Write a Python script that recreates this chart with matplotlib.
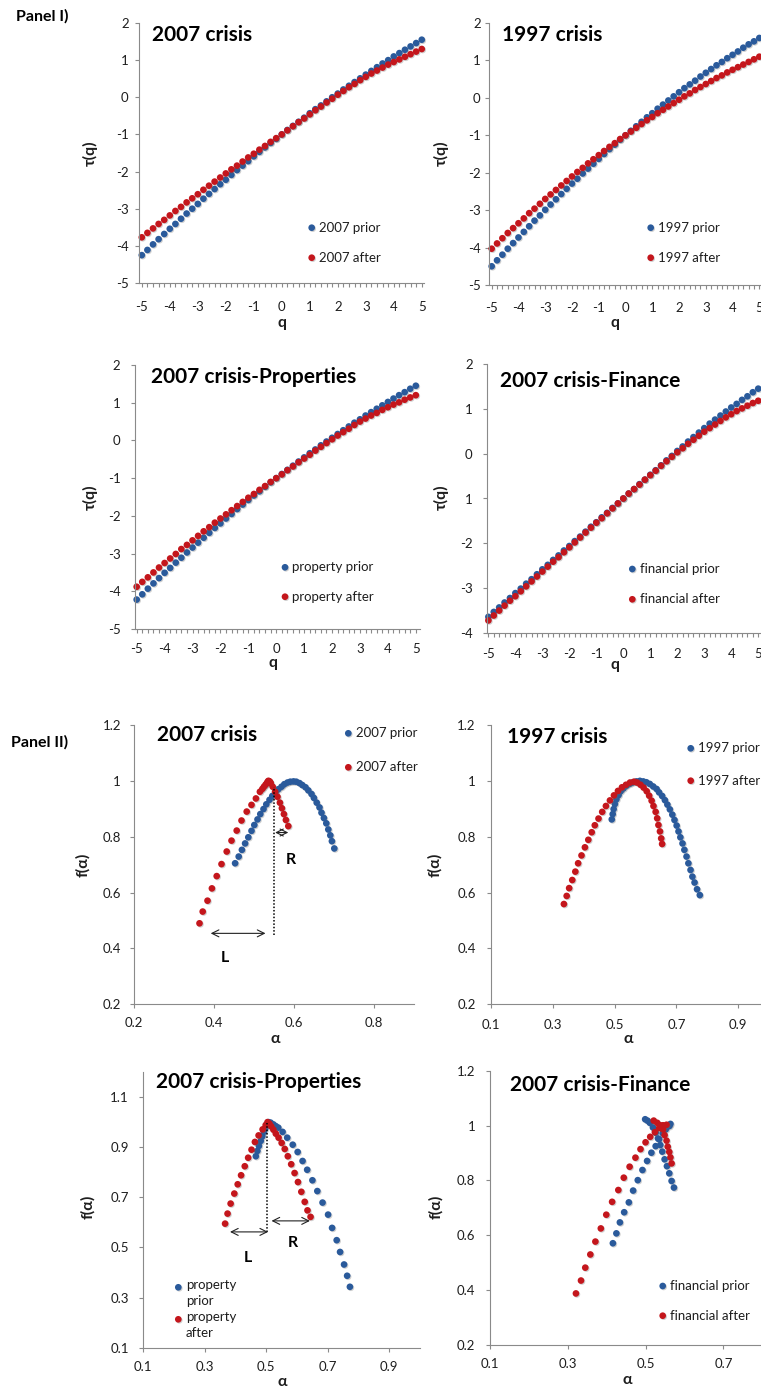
import matplotlib
matplotlib.use("Agg")
import matplotlib.pyplot as plt
import matplotlib.patheffects as pe
from matplotlib.lines import Line2D
from matplotlib.ticker import FixedLocator, MultipleLocator, FuncFormatter

plt.rcParams["font.family"] = ["Lato", "DejaVu Sans"]
plt.rcParams["axes.unicode_minus"] = False

# ---------------- Panel I data: tau(q) ----------------
q_vals = [-5.0, -4.8, -4.6, -4.4, -4.2, -4.0, -3.8, -3.6, -3.4, -3.2, -3.0,
          -2.8, -2.6, -2.4, -2.2, -2.0, -1.8, -1.6, -1.4, -1.2, -1.0,
          -0.8, -0.6, -0.4, -0.2, 0.0, 0.2, 0.4, 0.6, 0.8, 1.0,
          1.2, 1.4, 1.6, 1.8, 2.0, 2.2, 2.4, 2.6, 2.8, 3.0,
          3.2, 3.4, 3.6, 3.8, 4.0, 4.2, 4.4, 4.6, 4.8, 5.0]

tau_2007_prior = [-4.25, -4.11, -3.96, -3.82, -3.68, -3.54, -3.41, -3.27, -3.13, -3.00, -2.87,
                  -2.73, -2.60, -2.47, -2.34, -2.22, -2.09, -1.96, -1.84, -1.72, -1.59,
                  -1.47, -1.35, -1.23, -1.12, -1.00, -0.88, -0.77, -0.66, -0.55, -0.43,
                  -0.32, -0.22, -0.11, 0.00, 0.10, 0.21, 0.31, 0.41, 0.51, 0.61,
                  0.71, 0.81, 0.91, 1.00, 1.10, 1.19, 1.28, 1.37, 1.46, 1.55]
tau_2007_after = [-3.77, -3.65, -3.53, -3.41, -3.30, -3.18, -3.06, -2.95, -2.83, -2.72, -2.61,
                  -2.49, -2.38, -2.27, -2.16, -2.05, -1.94, -1.84, -1.73, -1.62, -1.52,
                  -1.41, -1.31, -1.20, -1.10, -1.00, -0.89, -0.78, -0.67, -0.57, -0.46,
                  -0.35, -0.25, -0.14, -0.04, 0.07, 0.17, 0.27, 0.36, 0.46, 0.55,
                  0.64, 0.72, 0.80, 0.88, 0.95, 1.02, 1.09, 1.16, 1.23, 1.30]
tau_1997_prior = [-4.50, -4.34, -4.19, -4.03, -3.88, -3.73, -3.58, -3.43, -3.28, -3.14, -2.99,
                  -2.85, -2.71, -2.57, -2.43, -2.29, -2.16, -2.02, -1.89, -1.76, -1.63,
                  -1.50, -1.37, -1.25, -1.12, -1.00, -0.88, -0.76, -0.64, -0.52, -0.41,
                  -0.29, -0.18, -0.07, 0.04, 0.15, 0.26, 0.36, 0.46, 0.57, 0.67,
                  0.77, 0.87, 0.96, 1.06, 1.15, 1.24, 1.34, 1.43, 1.51, 1.60]
tau_1997_after = [-4.03, -3.89, -3.75, -3.61, -3.48, -3.35, -3.22, -3.08, -2.96, -2.83, -2.70,
                  -2.58, -2.46, -2.34, -2.22, -2.10, -1.98, -1.87, -1.75, -1.64, -1.53,
                  -1.42, -1.31, -1.21, -1.10, -1.00, -0.90, -0.80, -0.70, -0.60, -0.51,
                  -0.41, -0.32, -0.23, -0.14, -0.05, 0.04, 0.12, 0.21, 0.29, 0.37,
                  0.45, 0.53, 0.60, 0.68, 0.75, 0.82, 0.89, 0.96, 1.03, 1.10]
tau_prop_prior = [-4.22, -4.08, -3.93, -3.79, -3.65, -3.51, -3.38, -3.24, -3.11, -2.97, -2.84,
                  -2.71, -2.58, -2.45, -2.32, -2.20, -2.07, -1.95, -1.82, -1.70, -1.58,
                  -1.46, -1.35, -1.23, -1.11, -1.00, -0.89, -0.78, -0.67, -0.56, -0.45,
                  -0.34, -0.24, -0.13, -0.03, 0.07, 0.17, 0.27, 0.37, 0.47, 0.56,
                  0.66, 0.75, 0.84, 0.93, 1.02, 1.11, 1.20, 1.28, 1.37, 1.45]
tau_prop_after = [-3.88, -3.75, -3.63, -3.50, -3.37, -3.25, -3.13, -3.01, -2.88, -2.77, -2.65,
                  -2.53, -2.41, -2.30, -2.18, -2.07, -1.96, -1.85, -1.74, -1.63, -1.52,
                  -1.42, -1.31, -1.21, -1.10, -1.00, -0.90, -0.79, -0.69, -0.58, -0.48,
                  -0.38, -0.27, -0.17, -0.07, 0.03, 0.13, 0.22, 0.31, 0.41, 0.50,
                  0.58, 0.66, 0.73, 0.81, 0.88, 0.95, 1.01, 1.08, 1.14, 1.20]
tau_fin_prior = [-3.64, -3.53, -3.43, -3.32, -3.22, -3.11, -3.01, -2.90, -2.80, -2.69, -2.58,
                 -2.48, -2.37, -2.27, -2.16, -2.06, -1.95, -1.85, -1.74, -1.63, -1.53,
                 -1.42, -1.32, -1.21, -1.11, -1.00, -0.89, -0.79, -0.68, -0.58, -0.47,
                 -0.37, -0.26, -0.15, -0.05, 0.06, 0.16, 0.27, 0.37, 0.47, 0.57,
                 0.67, 0.76, 0.85, 0.94, 1.03, 1.11, 1.20, 1.28, 1.37, 1.45]
tau_fin_after = [-3.72, -3.61, -3.50, -3.39, -3.28, -3.18, -3.07, -2.96, -2.85, -2.74, -2.63,
                 -2.52, -2.41, -2.31, -2.20, -2.09, -1.98, -1.87, -1.76, -1.65, -1.54,
                 -1.44, -1.33, -1.22, -1.11, -1.00, -0.89, -0.79, -0.69, -0.58, -0.48,
                 -0.38, -0.27, -0.17, -0.07, 0.03, 0.12, 0.22, 0.31, 0.40, 0.49,
                 0.57, 0.65, 0.73, 0.81, 0.88, 0.95, 1.01, 1.07, 1.13, 1.18]
# the finance chart prints "1" where -1 belongs; kept as in the source
fin_tau_ticks = [-4, -3, -2, -1, 0, 1, 2]
fin_tau_ticklabels = ["-4", "-3", "-2", "1", "0", "1", "2"]

# ---------------- Panel II data: f(alpha) ----------------
alpha_2007_prior = [0.452, 0.461, 0.469, 0.477, 0.485, 0.493, 0.500, 0.508, 0.515, 0.523, 0.530, 0.538,
                    0.545, 0.553, 0.560, 0.568, 0.575, 0.583, 0.590, 0.598, 0.605, 0.613, 0.620, 0.628,
                    0.635, 0.643, 0.649, 0.656, 0.663, 0.668, 0.674, 0.680, 0.685, 0.690, 0.694, 0.700]
f_2007_prior = [0.705, 0.729, 0.753, 0.776, 0.798, 0.821, 0.842, 0.862, 0.881, 0.899, 0.916, 0.932,
                0.946, 0.959, 0.970, 0.979, 0.988, 0.994, 0.997, 0.998, 0.997, 0.992, 0.985, 0.977,
                0.966, 0.953, 0.939, 0.922, 0.905, 0.886, 0.867, 0.848, 0.826, 0.805, 0.784, 0.758]
alpha_2007_after = [0.363, 0.371, 0.383, 0.394, 0.406, 0.418, 0.431, 0.443, 0.456, 0.468, 0.481,
                    0.493, 0.504, 0.514, 0.520, 0.524, 0.528, 0.531, 0.533, 0.535, 0.537, 0.539,
                    0.541, 0.546, 0.552, 0.558, 0.564, 0.569, 0.574, 0.579, 0.585]
f_2007_after = [0.490, 0.532, 0.571, 0.615, 0.659, 0.702, 0.747, 0.786, 0.822, 0.858, 0.890,
                0.914, 0.937, 0.961, 0.971, 0.979, 0.986, 0.991, 0.996, 1.000, 0.999, 0.997,
                0.992, 0.979, 0.961, 0.943, 0.922, 0.902, 0.881, 0.860, 0.838]

alpha_1997_prior = [0.491, 0.494, 0.497, 0.501, 0.506, 0.513, 0.520, 0.529, 0.539, 0.550, 0.560, 0.571,
                    0.582, 0.593, 0.603, 0.614, 0.625, 0.636, 0.644, 0.654, 0.663, 0.671, 0.679, 0.687,
                    0.694, 0.701, 0.707, 0.713, 0.720, 0.726, 0.733, 0.739, 0.746, 0.752, 0.759, 0.767,
                    0.776]
f_1997_prior = [0.862, 0.881, 0.899, 0.917, 0.934, 0.949, 0.963, 0.973, 0.983, 0.990, 0.995, 0.998,
                1.000, 0.998, 0.995, 0.989, 0.980, 0.971, 0.959, 0.946, 0.931, 0.915, 0.898, 0.879,
                0.860, 0.840, 0.819, 0.798, 0.776, 0.753, 0.729, 0.705, 0.681, 0.657, 0.636, 0.612,
                0.591]
alpha_1997_after = [0.336, 0.345, 0.353, 0.363, 0.373, 0.382, 0.393, 0.404, 0.415, 0.426, 0.436, 0.448,
                    0.460, 0.472, 0.485, 0.498, 0.511, 0.524, 0.537, 0.550, 0.563, 0.573, 0.584, 0.594,
                    0.604, 0.612, 0.620, 0.626, 0.633, 0.638, 0.642, 0.647, 0.651, 0.654]
f_1997_after = [0.559, 0.588, 0.616, 0.645, 0.675, 0.705, 0.733, 0.762, 0.789, 0.816, 0.841, 0.865,
                0.889, 0.910, 0.930, 0.948, 0.964, 0.977, 0.986, 0.994, 0.997, 0.994, 0.986, 0.976,
                0.963, 0.947, 0.929, 0.910, 0.889, 0.866, 0.842, 0.819, 0.794, 0.774]

alpha_prop_prior = [0.466, 0.471, 0.476, 0.482, 0.487, 0.492, 0.497, 0.501, 0.507, 0.514, 0.523, 0.531,
                    0.539, 0.553, 0.568, 0.586, 0.602, 0.618, 0.633, 0.650, 0.666, 0.683, 0.701, 0.714,
                    0.729, 0.740, 0.753, 0.763, 0.772]
f_prop_prior = [0.864, 0.885, 0.905, 0.925, 0.943, 0.961, 0.976, 0.991, 1.000, 0.998, 0.991, 0.984,
                0.978, 0.961, 0.938, 0.910, 0.881, 0.845, 0.810, 0.768, 0.725, 0.679, 0.631, 0.578,
                0.529, 0.482, 0.432, 0.387, 0.343]
alpha_prop_after = [0.366, 0.374, 0.384, 0.396, 0.407, 0.418, 0.430, 0.441, 0.452, 0.463, 0.475, 0.488,
                    0.498, 0.504, 0.510, 0.516, 0.523, 0.531, 0.540, 0.550, 0.560, 0.570, 0.581, 0.592,
                    0.603, 0.614, 0.625, 0.634, 0.644]
f_prop_after = [0.595, 0.635, 0.675, 0.715, 0.752, 0.788, 0.824, 0.858, 0.890, 0.921, 0.947, 0.971,
                0.988, 1.000, 0.994, 0.983, 0.970, 0.954, 0.938, 0.917, 0.893, 0.864, 0.832, 0.797,
                0.761, 0.722, 0.682, 0.648, 0.622]

alpha_fin_prior = [0.416, 0.425, 0.434, 0.445, 0.457, 0.468, 0.480, 0.492, 0.504, 0.515, 0.526, 0.535,
                   0.544, 0.552, 0.561, 0.564,
                   0.499, 0.505, 0.511, 0.519, 0.526, 0.532, 0.538, 0.543, 0.549, 0.555, 0.561, 0.567,
                   0.573]
f_fin_prior = [0.571, 0.607, 0.647, 0.684, 0.720, 0.763, 0.801, 0.838, 0.871, 0.901, 0.925, 0.950,
               0.972, 0.986, 0.998, 1.006,
               1.023, 1.018, 1.010, 0.993, 0.974, 0.953, 0.929, 0.905, 0.877, 0.852, 0.826, 0.798,
               0.774]
alpha_fin_after = [0.321, 0.334, 0.345, 0.358, 0.371, 0.385, 0.399, 0.414, 0.430, 0.444, 0.459, 0.474,
                   0.487, 0.500, 0.512, 0.524, 0.535, 0.545, 0.554,
                   0.521, 0.530, 0.538, 0.545, 0.549, 0.554, 0.557, 0.561, 0.564, 0.567]
f_fin_after = [0.388, 0.435, 0.482, 0.530, 0.577, 0.625, 0.675, 0.722, 0.765, 0.810, 0.850, 0.883,
               0.914, 0.939, 0.959, 0.976, 0.991, 1.001, 1.003,
               1.018, 1.010, 1.001, 0.986, 0.965, 0.945, 0.923, 0.904, 0.884, 0.862]

# L / R width markers drawn on the two 2007 spectra
peak_2007 = [0.549, 0.448, 0.979]      # alpha, f bottom, f top
left_arrow_2007 = [0.391, 0.528, 0.454]
right_arrow_2007 = [0.552, 0.585, 0.815]
peak_prop = [0.501, 0.562, 0.995]
left_arrow_prop = [0.382, 0.506, 0.562]
right_arrow_prop = [0.517, 0.642, 0.606]

BLUE = "#2a5a9b"
RED = "#c4161c"
AXIS_GRAY = "#8a8a8a"
TEXT = "#1e1e1e"

W, H = 761, 1387
fig = plt.figure(figsize=(W / 100, H / 100), dpi=100)


def fx(x):
    return x / W


def fy(y):
    return 1 - y / H


def add_axes(left, top, right, bottom):
    ax = fig.add_axes([fx(left), fy(bottom), (right - left) / W, (bottom - top) / H])
    ax.patch.set_alpha(0)
    for s in ["top", "right"]:
        ax.spines[s].set_visible(False)
    for s in ["left", "bottom"]:
        ax.spines[s].set_color(AXIS_GRAY)
        ax.spines[s].set_linewidth(0.8)
    ax.tick_params(which="both", direction="out", color=AXIS_GRAY, width=0.8, length=3,
                   labelsize=9.5, labelcolor=TEXT)
    return ax


def dots(color):
    return dict(linestyle="none", marker="o", markersize=4.8, markerfacecolor=color,
                markeredgewidth=0, clip_on=False,
                path_effects=[pe.SimplePatchShadow(offset=(0.7, -0.7), shadow_rgbFace="#666666", alpha=0.3),
                              pe.Normal()])


def title(x, y, s):
    fig.text(fx(x), fy(y - 2), s, fontsize=15, fontweight="bold", color="black", ha="left", va="top")


def labels(ylab, ypos, xlab, xpos):
    fig.text(fx(ypos[0]), fy(ypos[1]), ylab, rotation=90, fontsize=11.5, fontweight="bold",
             ha="center", va="center", color=TEXT)
    fig.text(fx(xpos[0]), fy(xpos[1]), xlab, fontsize=11.5, fontweight="bold",
             ha="center", va="center", color=TEXT)


def legend(entries, x, ys, linespacing=1.2):
    for (label, color), y in zip(entries, ys):
        fig.add_artist(Line2D([fx(x)], [fy(y)], transform=fig.transFigure, **dots(color)))
        if "\n" in label:
            fig.text(fx(x + 7.5), fy(y - 8.5), label, fontsize=9.5, color=TEXT, ha="left", va="top",
                     linespacing=linespacing)
        else:
            fig.text(fx(x + 7.5), fy(y), label, fontsize=9.5, color=TEXT, ha="left", va="center")


def tau_panel(box, xlim, ylim, prior, after, xpad, ypad):
    ax = add_axes(*box)
    ax.plot(q_vals, prior, **dots(BLUE))
    ax.plot(q_vals, after, **dots(RED))
    ax.set_xlim(*xlim)
    ax.set_ylim(*ylim)
    ax.xaxis.set_major_locator(FixedLocator(range(-5, 6)))
    ax.xaxis.set_minor_locator(MultipleLocator(0.2))
    ax.xaxis.set_major_formatter(FuncFormatter(lambda v, p: "%d" % round(v)))
    ax.yaxis.set_major_locator(MultipleLocator(1))
    ax.yaxis.set_major_formatter(FuncFormatter(lambda v, p: "%d" % round(v)))
    ax.tick_params(axis="x", pad=xpad)
    ax.tick_params(axis="y", pad=ypad)
    return ax


def f_panel(box, xlim, ylim, xticks, yticks, prior, after, xpad, ypad):
    ax = add_axes(*box)
    ax.plot(prior[0], prior[1], **dots(BLUE))
    ax.plot(after[0], after[1], **dots(RED))
    ax.set_xlim(*xlim)
    ax.set_ylim(*ylim)
    ax.set_xticks(xticks)
    ax.set_yticks(yticks)
    ax.xaxis.set_major_formatter(FuncFormatter(lambda v, p: "%g" % round(v, 2)))
    ax.yaxis.set_major_formatter(FuncFormatter(lambda v, p: "%g" % round(v, 2)))
    ax.tick_params(axis="x", pad=xpad)
    ax.tick_params(axis="y", pad=ypad)
    return ax


def widths(ax, peak, left, right, lab_l, lab_r):
    ax.plot([peak[0], peak[0]], [peak[1], peak[2]], color="black", linestyle=(0, (1, 1.2)), lw=1.1)
    for a in (left, right):
        ax.annotate("", xy=(a[0], a[2]), xytext=(a[1], a[2]),
                    arrowprops=dict(arrowstyle="<->,head_length=0.5,head_width=0.25", color="#222222",
                                    lw=0.8, shrinkA=0, shrinkB=0))
    ax.text(lab_l[0], lab_l[1], "L", fontsize=11.5, fontweight="bold", ha="center", va="center")
    ax.text(lab_r[0], lab_r[1], "R", fontsize=11.5, fontweight="bold", ha="center", va="center")


# ---------------- Panel I ----------------
fig.text(fx(42), fy(16), "Panel I)", fontsize=11.5, fontweight="bold", ha="center", va="center")

tau_panel((139, 23, 424, 283), (-5.1, 5.08), (-5, 2), tau_2007_prior, tau_2007_after, 10, 4.5)
title(152, 27, "2007 crisis")
labels("τ(q)", (90, 153), "q", (282, 323))
legend([("2007 prior", BLUE), ("2007 after", RED)], 311.7, [227.7, 257.7])

tau_panel((489, 23, 762, 285), (-5.1, 5.1), (-5, 2), tau_1997_prior, tau_1997_after, 9.5, 3)
title(501.7, 27, "1997 crisis")
labels("τ(q)", (441.7, 153), "q", (615, 323))
legend([("1997 prior", BLUE), ("1997 after", RED)], 650.7, [227.7, 257.7])

tau_panel((135, 365, 420, 629), (-5.06, 5.15), (-5, 2), tau_prop_prior, tau_prop_after, 7, 7.5)
title(151, 369, "2007 crisis-Properties")
labels("τ(q)", (90, 496.7), "q", (273, 663))
legend([("property prior", BLUE), ("property after", RED)], 285, [567.3, 596.7])

ax4 = tau_panel((487.3, 364, 762, 633), (-5.04, 5.14), (-4, 2), tau_fin_prior, tau_fin_after, 7.5, 7.5)
ax4.set_yticks(fin_tau_ticks)
ax4.set_yticklabels(fin_tau_ticklabels)
title(500, 372.7, "2007 crisis-Finance")
labels("τ(q)", (441.7, 496.7), "q", (615, 665))
legend([("financial prior", BLUE), ("financial after", RED)], 632.3, [569, 599.3])

# ---------------- Panel II ----------------
fig.text(fx(40), fy(742), "Panel II)", fontsize=11.5, fontweight="bold", ha="center", va="center")

ax5 = f_panel((134.3, 725, 414.3, 1004.3), (0.2, 0.9), (0.2, 1.2), [0.2, 0.4, 0.6, 0.8],
              [0.2, 0.4, 0.6, 0.8, 1.0, 1.2], (alpha_2007_prior, f_2007_prior),
              (alpha_2007_after, f_2007_after), 6.5, 6.5)
widths(ax5, peak_2007, left_arrow_2007, right_arrow_2007, (0.427, 0.365), (0.591, 0.717))
title(156.7, 726.7, "2007 crisis")
labels("f(α)", (83, 865), "α", (275, 1039))
legend([("2007 prior", BLUE), ("2007 after", RED)], 348.3, [733.3, 767.3])

f_panel((491, 725, 769, 1004.3), (0.1, 1.0), (0.2, 1.2), [0.1, 0.3, 0.5, 0.7, 0.9],
        [0.2, 0.4, 0.6, 0.8, 1.0, 1.2], (alpha_1997_prior, f_1997_prior),
        (alpha_1997_after, f_1997_after), 7.5, 8)
title(506.7, 729, "1997 crisis")
labels("f(α)", (435, 865), "α", (628, 1039))
legend([("1997 prior", BLUE), ("1997 after", RED)], 690.7, [748.3, 780.7])

ax7 = f_panel((143.3, 1072, 420, 1347.7), (0.1, 1.0), (0.1, 1.2), [0.1, 0.3, 0.5, 0.7, 0.9],
              [0.1, 0.3, 0.5, 0.7, 0.9, 1.1], (alpha_prop_prior, f_prop_prior),
              (alpha_prop_after, f_prop_after), 6.5, 7.5)
widths(ax7, peak_prop, left_arrow_prop, right_arrow_prop, (0.441, 0.456), (0.585, 0.518))
title(155.7, 1074, "2007 crisis-Properties")
labels("f(α)", (88, 1207), "α", (282, 1382))
legend([("property\nprior", BLUE), ("property\nafter", RED)], 178.3, [1287.3, 1319.3], linespacing=1.4)

f_panel((490, 1070.7, 762.2, 1345), (0.1, 0.8), (0.2, 1.2), [0.1, 0.3, 0.5, 0.7],
        [0.2, 0.4, 0.6, 0.8, 1.0, 1.2], (alpha_fin_prior, f_fin_prior),
        (alpha_fin_after, f_fin_after), 6, 7.5)
title(510, 1076.7, "2007 crisis-Finance")
labels("f(α)", (436, 1207), "α", (627, 1380))
legend([("financial prior", BLUE), ("financial after", RED)], 662.7, [1286, 1315.7])

fig.savefig("out.png", dpi=100)
